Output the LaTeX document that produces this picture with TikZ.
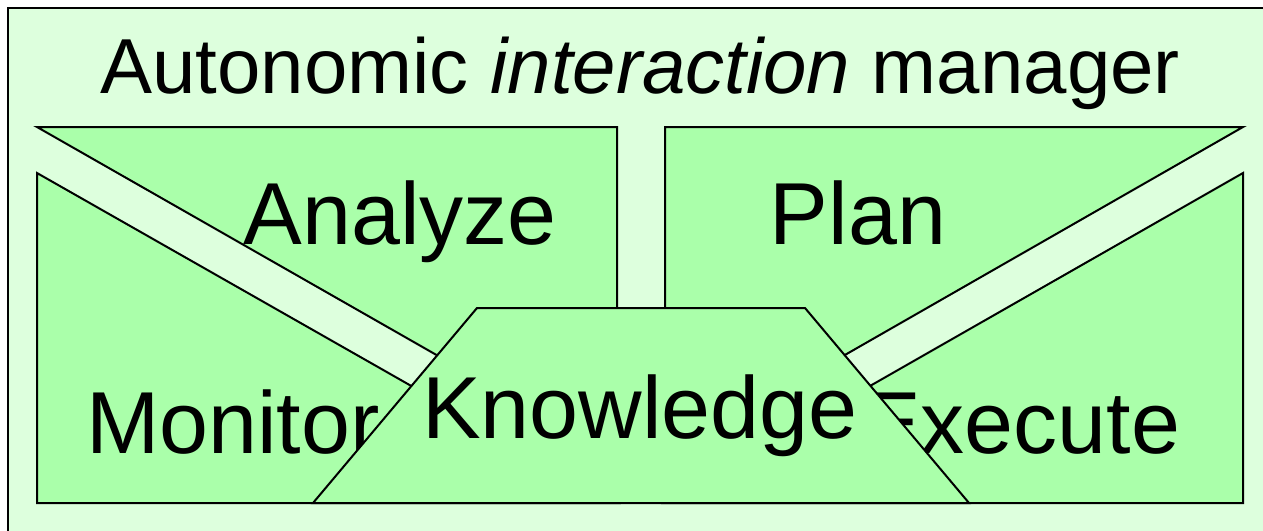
\documentclass[tikz,border=0pt]{standalone}
\usepackage{fontspec}
\setmainfont{Liberation Sans}
\definecolor{paleback}{RGB}{221,255,221}
\definecolor{phasefill}{RGB}{170,255,170}
\tikzset{
  phase/.style={draw=black, fill=phasefill, line width=2pt, line join=miter},
  frame/.style={draw=black, fill=paleback, line width=2.2pt},
  bigtext/.style={inner sep=0pt, anchor=base, font=\fontsize{88}{90}\selectfont},
  titletext/.style={inner sep=0pt, anchor=base, font=\fontsize{78}{82}\selectfont}
}
\begin{document}
\begin{tikzpicture}[x=1pt, y=-1pt]
  \useasboundingbox (0,0) rectangle (1263,530);
  \clip (0,0) rectangle (1263,530);
  % outer panel
  \path[frame] (8,8) rectangle (1280,545);
  \node[titletext] (title) at (640,93) {Autonomic \textit{interaction} manager};
  % the four phase triangles
  \path[phase] (37,127) -- (617,127) -- (617,458) -- cycle;
  \path[phase] (665,127) -- (1243,127) -- (665,458) -- cycle;
  \path[phase] (37,173) -- (37,503) -- (617,503) -- cycle;
  \path[phase] (1243,173) -- (1243,503) -- (665,503) -- cycle;
  % phase labels
  \node[bigtext] (analyze) at (400,244) {Analyze};
  \node[bigtext] (plan) at (858,244) {Plan};
  \node[bigtext] (monitor) at (233,453) {Monitor};
  \node[bigtext] (execute) at (1021,453) {Execute};
  % shared knowledge in front
  \path[phase] (313,503) -- (477,308) -- (805,308) -- (969,503) -- cycle;
  \node[bigtext] (knowledge) at (640,438) {Knowledge};
\end{tikzpicture}
\end{document}
